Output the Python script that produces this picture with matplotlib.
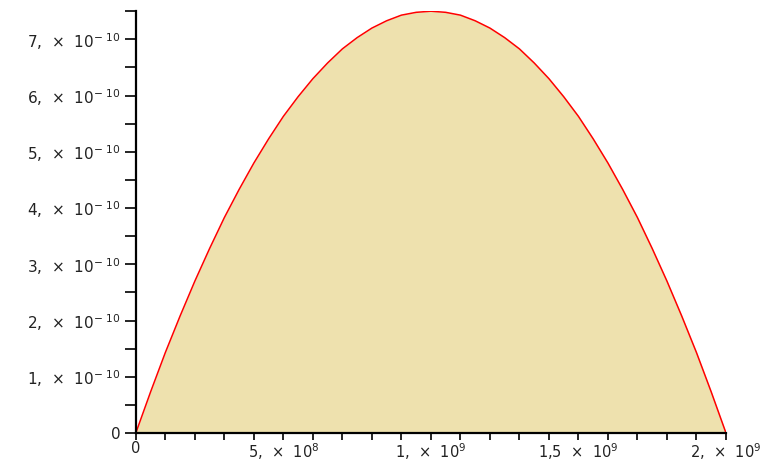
import matplotlib
matplotlib.use("Agg")
import matplotlib.pyplot as plt
from matplotlib.ticker import MultipleLocator, FixedLocator

plt.rcParams['mathtext.fontset'] = 'dejavusans'

# data (x in steps of 5e7)
x_vals = [k * 5e7 for k in range(41)]
y_half = [0, 0.73, 1.43, 2.08, 2.70, 3.28, 3.83, 4.33, 4.80, 5.23, 5.63,
          5.98, 6.30, 6.58, 6.83, 7.03, 7.20, 7.33, 7.43, 7.48, 7.50]
y_vals = [v * 1e-10 for v in (y_half + y_half[-2::-1])]

x_ticks = [0, 5e8, 1e9, 1.5e9, 2e9]
x_labels = ['0', '5,  ×  10$^{8}$', '1,  ×  10$^{9}$',
            '1,5  ×  10$^{9}$', '2,  ×  10$^{9}$']
y_ticks = [0, 1e-10, 2e-10, 3e-10, 4e-10, 5e-10, 6e-10, 7e-10]
y_labels = ['0'] + ['%d,  ×  10$^{-\\ 10}$' % k for k in range(1, 8)]

fig = plt.figure(figsize=(7.63, 4.63), dpi=100)
ax = fig.add_axes([0.178, 0.0648, 0.7735, 0.911])

ax.fill_between(x_vals, y_vals, 0, color='#EEE1AE', linewidth=0)
ax.plot(x_vals, y_vals, color='#FF0000', linewidth=1.1)

ax.set_xlim(0, 2e9)
ax.set_ylim(0, 7.5e-10)

for s in ['top', 'right']:
    ax.spines[s].set_visible(False)
for s in ['left', 'bottom']:
    ax.spines[s].set_linewidth(1.6)
    ax.spines[s].set_color('black')

ax.set_xticks(x_ticks)
ax.set_xticklabels(x_labels)
ax.set_yticks(y_ticks)
ax.set_yticklabels(y_labels)
ax.xaxis.set_minor_locator(MultipleLocator(1e8))
ax.yaxis.set_minor_locator(FixedLocator([k * 1e-10 + 0.5e-10 for k in range(8)]))

ax.tick_params(axis='both', which='both', direction='out', width=1.2,
               colors='black', labelcolor='#222222')
ax.tick_params(axis='x', which='both', length=5, pad=1, labelsize=10.5)
ax.tick_params(axis='y', which='both', length=8, pad=3, labelsize=11)

fig.savefig('out.png', dpi=100)
